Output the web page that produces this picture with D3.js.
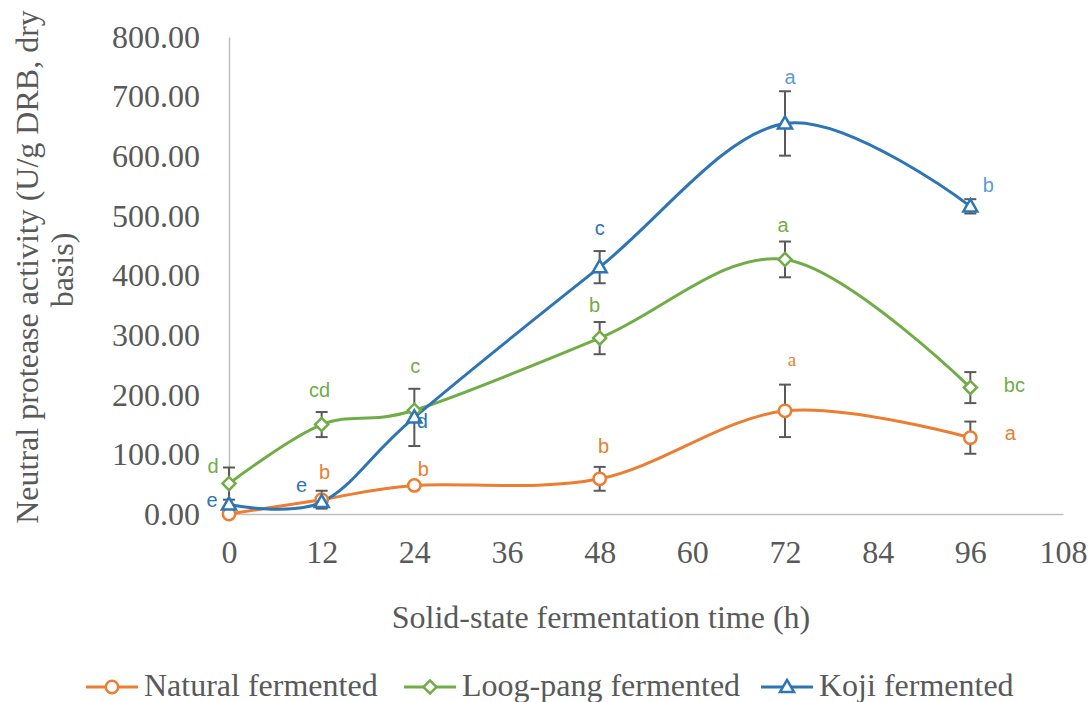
<!DOCTYPE html>
<html><head><meta charset="utf-8">
<script src="https://cdn.jsdelivr.net/npm/d3@7"></script>
<style>body{margin:0;background:#fff}</style>
</head><body>
<svg id="c" width="1090" height="702"></svg>
<script>
const hours = [0, 12, 24, 48, 72, 96];
const xTicks = [0, 12, 24, 36, 48, 60, 72, 84, 96, 108];
const yTicks = [0, 100, 200, 300, 400, 500, 600, 700, 800];
const seriesNames = ["Natural fermented", "Loog-pang fermented", "Koji fermented"];
const naturalVals = [0, 24, 48, 59, 173, 128];
const naturalErr = [0, 15, 0, 20, 44, 27];
const naturalLbl = ["", "b", "b", "b", "a", "a"];
const loogVals = [51, 150, 174, 295, 427, 212];
const loogErr = [27, 21, 0, 27, 30, 26];
const loogLbl = ["d", "cd", "c", "b", "a", "bc"];
const kojiVals = [16, 20, 162, 414, 655, 516];
const kojiErr = [0, 0, 48, 27, 54, 12];
const kojiLbl = ["e", "e", "d", "c", "a", "b"];

const svg = d3.select("#c");
const x = d3.scaleLinear().domain([0, 108]).range([229, 1063]);
const y = d3.scaleLinear().domain([0, 800]).range([514, 37]);
const serif = "'Liberation Serif','Times New Roman',serif";
const sans = "'Liberation Sans',Arial,sans-serif";
const grey = "#595959";

// axes
const ya = svg.append("g").attr("transform", "translate(229,0)")
  .call(d3.axisLeft(y).tickValues(yTicks).tickSize(0).tickPadding(29).tickFormat(d3.format(".2f")));
ya.select(".domain").attr("stroke", "#bfbfbf").attr("stroke-width", 1.5);
ya.selectAll("text").attr("font-family", serif).attr("font-size", 32).attr("fill", grey);
const xa = svg.append("g").attr("transform", "translate(0,514)")
  .call(d3.axisBottom(x).tickValues(xTicks).tickSize(0).tickPadding(26));
xa.select(".domain").attr("stroke", "#bfbfbf").attr("stroke-width", 1.5);
xa.selectAll("text").attr("font-family", serif).attr("font-size", 32).attr("fill", grey);

// axis titles
svg.append("text").attr("transform", "translate(38,267) rotate(-90)").attr("text-anchor", "middle")
  .attr("font-family", serif).attr("font-size", 32).attr("fill", grey)
  .text("Neutral protease activity (U/g DRB, dry");
svg.append("text").attr("transform", "translate(73,270) rotate(-90)").attr("text-anchor", "middle")
  .attr("font-family", serif).attr("font-size", 32).attr("fill", grey).text("basis)");
svg.append("text").attr("x", 601).attr("y", 628).attr("text-anchor", "middle")
  .attr("font-family", serif).attr("font-size", 32).attr("fill", grey)
  .text("Solid-state fermentation time (h)");

const series = [
  {name: seriesNames[0], vals: naturalVals, err: naturalErr, lbl: naturalLbl, color: "#ED7D31",
   lblColor: Array(6).fill("#ED7D31"), marker: "circle",
   lblOff: [[0,0],[3,-21],[9,-9],[4,-26],[7,-45],[40,2]]},
  {name: seriesNames[1], vals: loogVals, err: loogErr, lbl: loogLbl, color: "#70AD47",
   lblColor: Array(6).fill("#70AD47"), marker: "diamond",
   lblOff: [[-16,-11],[-2,-28],[1,-37],[-5,-26],[-2,-27],[44,4]]},
  {name: seriesNames[2], vals: kojiVals, err: kojiErr, lbl: kojiLbl, color: "#2E75B6",
   lblColor: ["#2E75B6","#2E75B6","#2E75B6","#2E75B6","#5B9BD5","#5B9BD5"], marker: "triangle",
   lblOff: [[-17,3],[-20,-10],[8,11],[0,-32],[5,-39],[18,-14]]}
];

const line = d3.line().x((d, i) => x(hours[i])).y(d => y(d)).curve(d3.curveCardinal.tension(0));
function drawMarker(g, type, color, cx, cy) {
  let p;
  if (type === "circle") p = g.append("path").attr("d", d3.symbol().type(d3.symbolCircle).size(120)())
    .attr("transform", `translate(${cx},${cy})`);
  else if (type === "diamond") p = g.append("path").attr("d", d3.symbol().type(d3.symbolSquare).size(85)())
    .attr("transform", `translate(${cx},${cy}) rotate(45)`);
  else p = g.append("path").attr("d", d3.symbol().type(d3.symbolTriangle).size(85)())
    .attr("transform", `translate(${cx},${cy + 1})`);
  p.attr("fill", "#fff").attr("stroke", color).attr("stroke-width", 2.5);
}

series.forEach(s => {
  svg.append("path").datum(s.vals).attr("d", line).attr("fill", "none")
    .attr("stroke", s.color).attr("stroke-width", 3);
});
// error bars
series.forEach(s => {
  s.vals.forEach((v, i) => {
    if (!s.err[i]) return;
    const cx = x(hours[i]);
    const g = svg.append("g").attr("stroke", grey).attr("stroke-width", 2);
    g.append("line").attr("x1", cx).attr("x2", cx).attr("y1", y(v + s.err[i])).attr("y2", y(v - s.err[i]));
    [v + s.err[i], v - s.err[i]].forEach(e => g.append("line").attr("x1", cx - 6).attr("x2", cx + 6).attr("y1", y(e)).attr("y2", y(e)));
  });
});
// markers + labels
series.forEach(s => {
  s.vals.forEach((v, i) => {
    drawMarker(svg, s.marker, s.color, x(hours[i]), y(v));
    if (s.lbl[i]) {
      const isSerif = s.marker === "circle" && i === 4;
      svg.append("text").attr("x", x(hours[i]) + s.lblOff[i][0]).attr("y", y(v) + s.lblOff[i][1])
        .attr("text-anchor", "middle").attr("font-family", isSerif ? serif : sans)
        .attr("font-size", isSerif ? 19 : 20).attr("fill", s.lblColor[i]).text(s.lbl[i]);
    }
  });
});

// legend
const legX = [86, 404, 761];
series.forEach((s, k) => {
  const g = svg.append("g");
  g.append("line").attr("x1", legX[k]).attr("x2", legX[k] + 52).attr("y1", 687).attr("y2", 687)
    .attr("stroke", s.color).attr("stroke-width", 3);
  drawMarker(g, s.marker, s.color, legX[k] + 26, 687);
  g.append("text").attr("x", legX[k] + 58).attr("y", 696).attr("font-family", serif)
    .attr("font-size", 32).attr("fill", grey).text(s.name);
});
</script>
</body></html>
